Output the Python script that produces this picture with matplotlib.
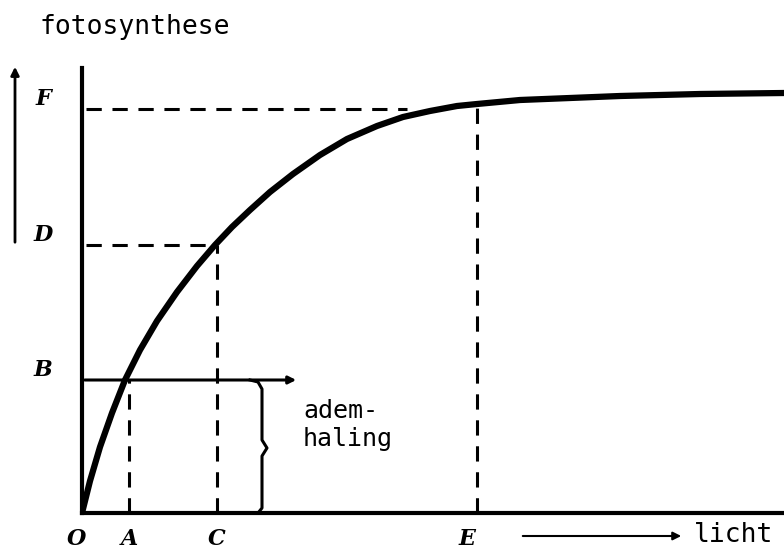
import matplotlib
matplotlib.use("Agg")
from matplotlib import pyplot as plt

# light-response curve (origin at bottom-left of the axes)
licht = [0, 2, 8, 18, 30, 43, 58, 75, 95, 115, 133, 150, 168, 188, 211, 238, 265, 295, 321, 348, 375, 395, 438, 538, 618, 702]
foto = [0, 8, 32, 66, 100, 133, 163, 192, 221, 247, 268, 286, 303, 321, 339, 358, 374, 387, 396, 402, 407, 409, 413, 417, 419, 420]

# points on the x axis and levels on the y axis
x_names = ["A", "C", "E"]
x_points = [47, 135, 395]
y_names = ["B", "D", "F"]
y_levels = [133, 268, 404]

W, H = 784, 550
fig = plt.figure(figsize=(W / 100, H / 100), dpi=100)

def fx(x):
    return x / W

def fy(y):
    return 1 - y / H

# axes: origin at pixel (82, 513), top at 68, right edge at 784
ax = fig.add_axes([fx(82), fy(513), fx(784 - 82), (513 - 68) / H])
ax.set_xlim(0, 702)
ax.set_ylim(0, 445)
for s in ["top", "right"]:
    ax.spines[s].set_visible(False)
ax.spines["left"].set_linewidth(3)
ax.spines["bottom"].set_linewidth(3)
ax.set_xticks([])
ax.set_yticks([])

dash = (0, (5, 3.5))

# curve
ax.plot(licht, foto, color="black", lw=4.5, solid_capstyle="round", solid_joinstyle="round", zorder=5)

# B: solid line with arrow, A dashed down from it
ax.annotate("", xy=(217, y_levels[0]), xytext=(0, y_levels[0]),
            arrowprops=dict(arrowstyle="-|>", color="black", lw=2.2, mutation_scale=11))
ax.plot([x_points[0], x_points[0]], [0, y_levels[0]], color="black", lw=2.2, ls=dash)

# D and F dashed levels, C and E dashed verticals
ax.plot([4, x_points[1]], [y_levels[1], y_levels[1]], color="black", lw=2.2, ls=dash)
ax.plot([x_points[1], x_points[1]], [0, y_levels[1]], color="black", lw=2.2, ls=dash)
ax.plot([4, 325], [y_levels[2], y_levels[2]], color="black", lw=2.2, ls=dash)
ax.plot([x_points[2], x_points[2]], [0, 409], color="black", lw=2.2, ls=dash)

# brace for "ademhaling"
bx = [168, 176, 180, 180, 185, 180, 180, 176]
by = [133, 131, 124, 73, 65, 57, 5, 0]
ax.plot(bx, by, color="black", lw=2.2, solid_joinstyle="round")

mono = "DejaVu Sans Mono"
ax.text(221, 88, "adem-\nhaling", fontsize=18, family=mono, va="center", ha="left", linespacing=1.2)

# letters
letter_font = dict(family="DejaVu Serif", style="italic", fontsize=16, fontweight="bold", ha="center", va="center")
fig.text(fx(77), fy(539), "O", **letter_font)
for name, xp in zip(x_names, x_points):
    fig.text(fx(xp + 82 - (10 if name == "E" else 0)), fy(539), name, **letter_font)
for name, yl in zip(y_names, y_levels):
    fig.text(fx(43), fy(513 - yl - 10), name, **letter_font)

# title and light label
fig.text(fx(40), fy(27), "fotosynthese", fontsize=19, family=mono, ha="left", va="center")
fig.text(fx(694), fy(535), "licht", fontsize=19, family=mono, ha="left", va="center")

# arrows outside the axes
fig.add_artist(matplotlib.patches.FancyArrowPatch((fx(520), fy(536)), (fx(684), fy(536)),
               transform=fig.transFigure, arrowstyle="-|>", mutation_scale=12, lw=1.5, color="black"))
fig.add_artist(matplotlib.patches.FancyArrowPatch((fx(15), fy(245)), (fx(15), fy(64)),
               transform=fig.transFigure, arrowstyle="-|>", mutation_scale=12, lw=2, color="black"))

fig.savefig("out.png", dpi=100)
